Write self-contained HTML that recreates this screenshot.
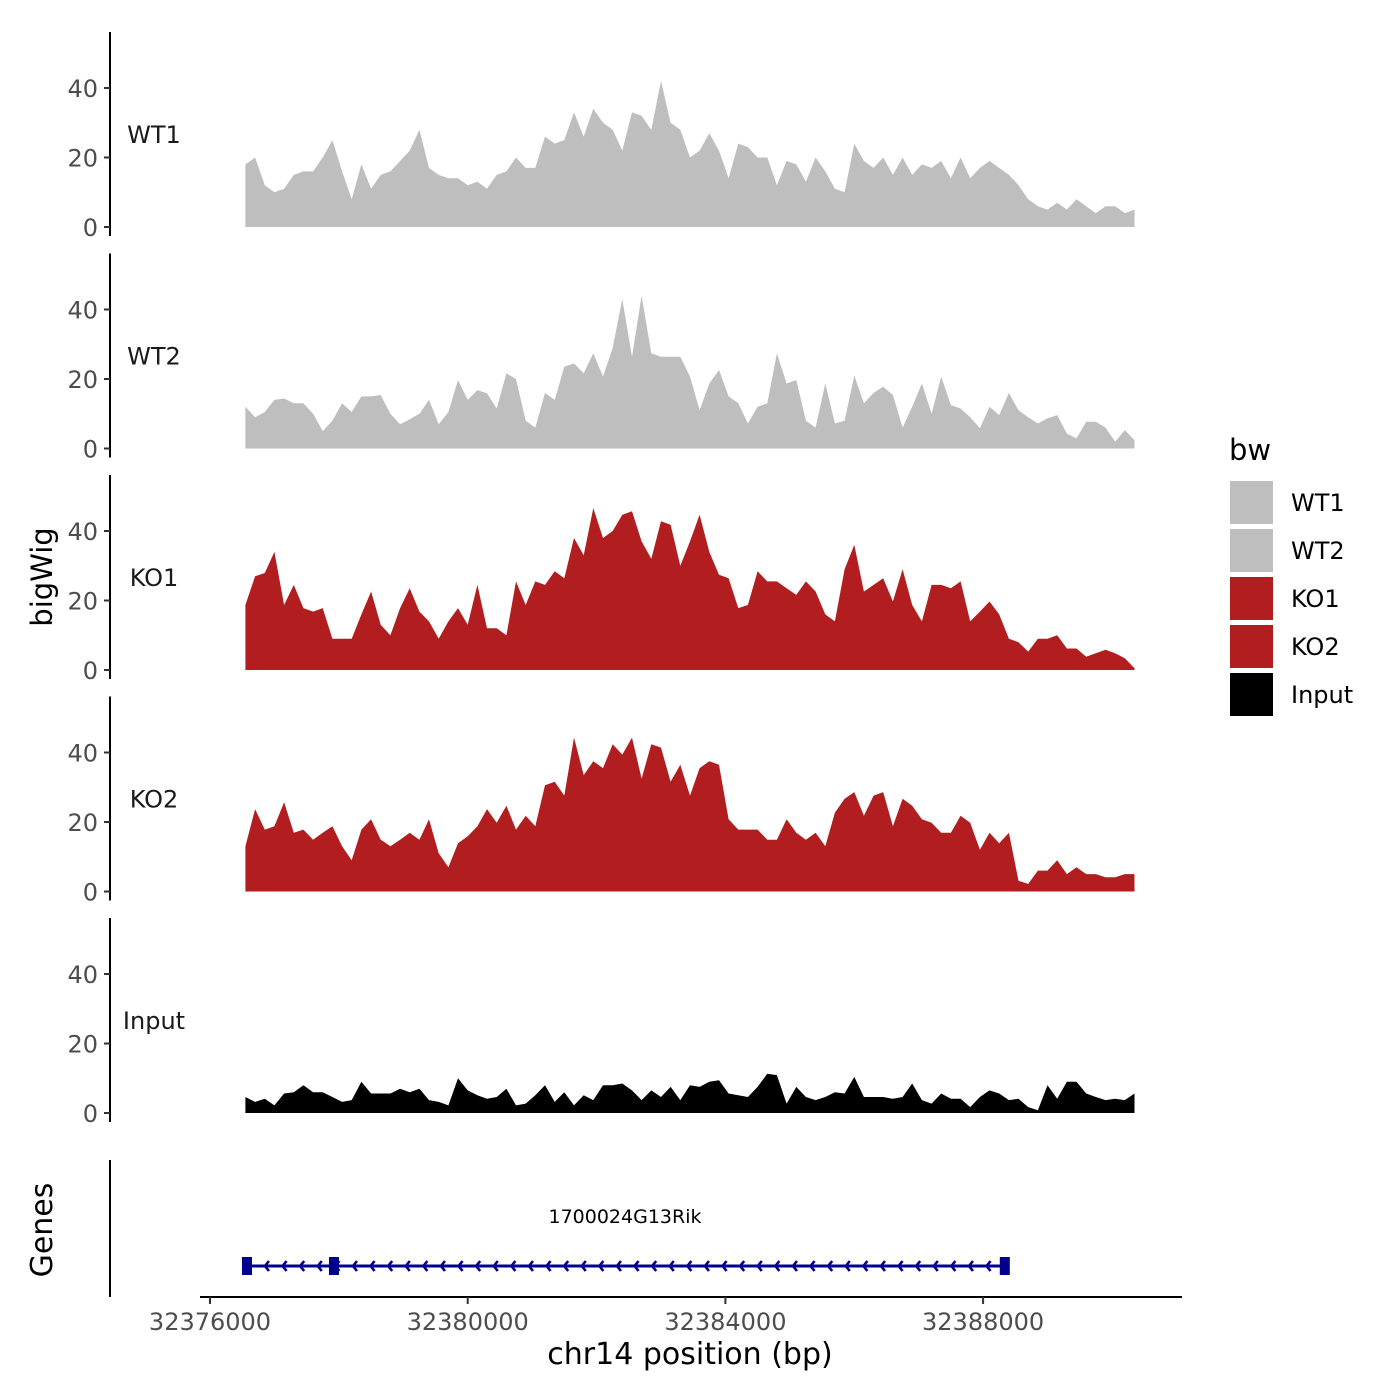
<!DOCTYPE html>
<html><head><meta charset="utf-8"><style>
html,body{margin:0;padding:0;background:#fff;}
svg{display:block;font-family:"DejaVu Sans","Liberation Sans",sans-serif;}
</style></head><body>
<svg id="chart" width="1400" height="1400" viewBox="0 0 1400 1400" xmlns="http://www.w3.org/2000/svg">
<text x="0" y="0" transform="translate(52,577) rotate(-90)" text-anchor="middle" font-size="29" fill="#000">bigWig</text>
<text x="0" y="0" transform="translate(52,1230) rotate(-90)" text-anchor="middle" font-size="30" fill="#000">Genes</text>
<text x="690" y="1364" text-anchor="middle" font-size="30" fill="#000">chr14 position (bp)</text>
<g>
<text x="1229" y="460" font-size="29" fill="#000">bw</text>
</g>
</svg>
<script>
const binStart = 32376550;
const binSize = 150;
const trackNames = ["WT1","WT2","KO1","KO2","Input"];
const trackColors = ["#bebebe","#bebebe","#b21e1f","#b21e1f","#000000"];
const wt1 = [18,20,12,10,11,15,16,16,20,25,16,8,18,11,15,16,19,22,28,17,15,14,14,12,13,11,15,16,20,17,17,26,24,25,33,26,34,30,28,22,33,32,28,42,30,28,20,22,27,22,14,24,23,20,20,12,19,18,13,20,16,11,10,24,19,17,20,15,20,15,18,17,19,14,20,14,17,19,17,15,12,8,6,5,7,5,8,6,4,6,6,4,5];
const wt2 = [12,9,10.5,14,14.4,13,13,10,5,8,13,10.5,15,15,15.4,10,7,8.4,10,14,7,10.5,19.7,14,16.8,15.9,11.5,21.6,20,8,6,16,14,23.5,24.5,21.6,27.4,20.7,29,43,26.4,44,27.4,26.4,26.4,26.4,20.7,11,18.7,22.6,15,13,7.2,12,13,27.4,18.7,19.7,8,6,18.7,7.2,8,21,13,16,17.8,15.4,6,12,18.7,10,20.7,12.5,11.5,9,5.8,12,9.6,16,11,9,7.2,8.7,9.6,4.3,2.9,7.7,7.7,6,2,5.3,2.4];
const ko1 = [18.7,27,27.9,34,18.7,24.5,17.8,16.8,17.8,9,9,9,16,22.6,13,10,17.8,23.5,16.8,14,9,14,17.8,13,24.5,12,12,10,25.5,18.7,25.5,24.5,28.4,26.4,38,33,46.6,38,40,44.7,45.7,37,32,42.8,41.8,30,37,44.7,34,27.4,26.4,17.8,18.7,28.4,25.5,25.5,23.5,21.6,25.5,22.6,16,14,29,36,22.6,24.5,26.4,19.7,29,18.7,14,24.5,24.5,23.5,25.5,14,16.8,19.7,16,9,8,5.3,9,9,10,6.2,6.2,3.8,4.8,5.8,4.8,3.4,0.5];
const ko2 = [13,23.7,17.8,18.8,25.7,16.9,17.8,14.9,16.9,18.8,13,9,17.8,20.8,14.9,13,14.9,16.9,14.9,20.8,11,7,13.9,15.9,18.8,23.7,19.8,24.7,17.8,21.8,18.8,30.6,31.6,27.6,44.3,33.5,37.5,35.5,42.4,39.4,44.3,32.5,42.4,41.4,31.6,36.5,27.6,35.5,37.5,36.5,20.8,17.8,17.8,17.8,14.9,14.9,20.8,16.9,14.9,16.9,13,22.7,26.7,28.6,21.8,27.6,28.6,18.8,26.7,24.7,20.8,19.8,16.9,16.9,21.8,19.8,12,16.9,13.9,16.9,3.1,2.2,6,6,9,5,7,5,5,4.1,4.1,5,5];
const input = [4.6,3.2,4.1,2.2,5.6,6,8,6,6,4.6,3.2,3.7,9,5.6,5.6,5.6,7,6,7,3.7,3.2,2.2,10,6.5,5.1,4.1,4.6,7,2.2,2.7,5.1,8,3.2,6,2.2,5.1,3.7,8,8,8.5,6.5,3.7,6.5,4.6,7.5,3.7,8,7.5,9,9.4,5.6,5.1,4.6,7.5,11.3,10.9,2.7,7.5,4.6,3.7,4.6,6,5.6,10.4,4.6,4.6,4.6,4.1,4.6,8.5,3.7,2.7,5.6,4.1,4.1,1.7,4.6,6.5,5.6,3.7,4.1,1.7,0.8,8,4.1,9,9,5.6,4.6,3.7,4.1,3.7,5.6];
const yTicks = [0,20,40];
const xTicks = [32376000,32380000,32384000,32388000];
const geneName = "1700024G13Rik";
const geneStart = 32376574, geneEnd = 32388337;
const exonStarts = [32376574,32377924,32388337];

const NS="http://www.w3.org/2000/svg";
const svg=document.getElementById('chart');
function el(tag,attrs,parent){const e=document.createElementNS(NS,tag);for(const k in attrs)e.setAttribute(k,attrs[k]);(parent||svg).appendChild(e);return e;}
const xScale = bp => 210 + (bp-32376000)*257.7/4000;
const zeroY = k => 227 + k*221.5;
const yScale = (k,v) => zeroY(k) - v*3.475;
const series=[wt1,wt2,ko1,ko2,input];
const endBp = 32390350;

series.forEach((vals,k)=>{
  const g=el('g',{});
  
  
  const z=zeroY(k);
  const ax=el('line',{x1:110,x2:110,y1:z-195,y2:z+9,stroke:'#000','stroke-width':2},g);
  
  
  yTicks.forEach(t=>{
    const y=yScale(k,t);
    const tk=el('line',{x1:104,x2:110,y1:y,y2:y,stroke:'#333','stroke-width':2},g);
    
    
    const tl=el('text',{x:98,y:y+9,'text-anchor':'end','font-size':24,fill:'#4d4d4d'},g);
    
    
    tl.textContent=t;
  });
  const lb=el('text',{x:154,y:z-84,'text-anchor':'middle','font-size':24,fill:'#1a1a1a'},g);
  
  
  lb.textContent=trackNames[k];
  let d='M'+xScale(binStart).toFixed(1)+','+z;
  vals.forEach((v,i)=>{d+=' L'+xScale(Math.min(binStart+i*binSize,endBp)).toFixed(1)+','+yScale(k,v).toFixed(1);});
  d+=' L'+xScale(endBp).toFixed(1)+','+z+' Z';
  const p=el('path',{d:d,fill:trackColors[k]},g);
  
  
});

const ga=el('line',{x1:110,x2:110,y1:1160,y2:1297,stroke:'#000','stroke-width':2});


const xa=el('line',{x1:200,x2:1182,y1:1297,y2:1297,stroke:'#000','stroke-width':2});


xTicks.forEach(t=>{
  const x=xScale(t);
  const tk=el('line',{x1:x,x2:x,y1:1297,y2:1304,stroke:'#333','stroke-width':2});
  
  
  const tl=el('text',{x:x,y:1330,'text-anchor':'middle','font-size':24,fill:'#4d4d4d'});
  
  
  tl.textContent=t;
});
const gg=el('g',{});


const gx1=xScale(geneStart), gx2=xScale(geneEnd);
el('line',{x1:gx1,x2:gx2,y1:1266,y2:1266,stroke:'#00008b','stroke-width':3},gg);
for(let x=gx1+18;x<gx2-6;x+=17.6){
  el('polyline',{points:(x+4)+',1261 '+x+',1266 '+(x+4)+',1271',fill:'none',stroke:'#00008b','stroke-width':2.6},gg);
}
exonStarts.forEach(b=>{
  const r=el('rect',{x:xScale(b)-5,y:1257,width:10,height:18,fill:'#00008b'},gg);
  
  
});
const gn=el('text',{x:625,y:1223,'text-anchor':'middle','font-size':19,fill:'#000'});


gn.textContent=geneName;

trackNames.forEach((n,i)=>{
  const y=480+i*48;
  const r=el('rect',{x:1229,y:y,width:45,height:45,fill:trackColors[i],stroke:'#fff','stroke-width':2});
  
  
  const t=el('text',{x:1291,y:y+31,'font-size':24,fill:'#000'});
  
  
  t.textContent=n;
});
</script>
</body></html>
